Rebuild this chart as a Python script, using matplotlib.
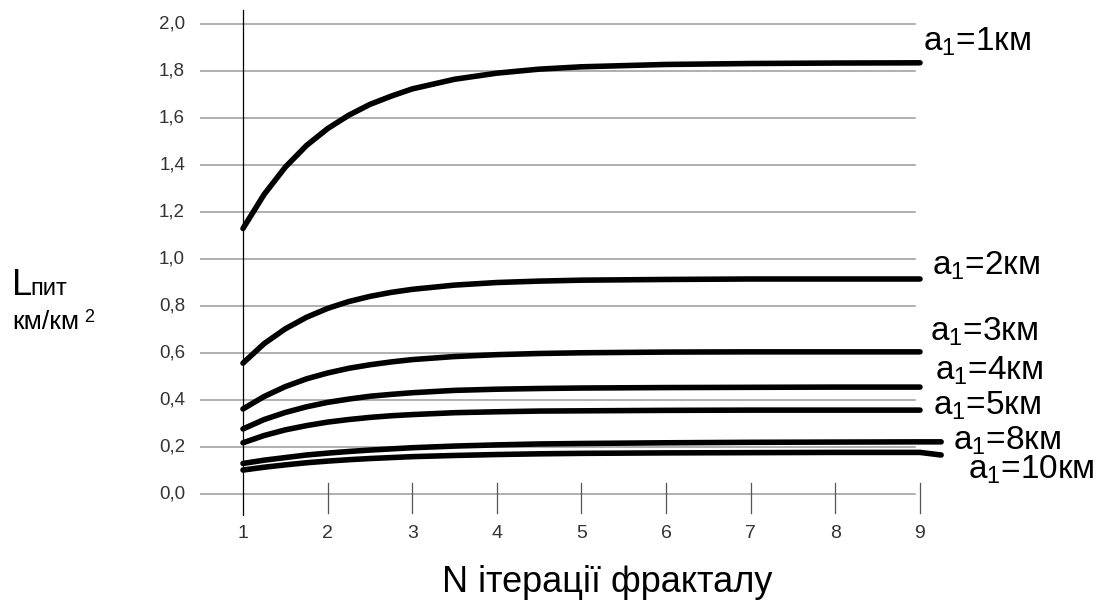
import matplotlib
matplotlib.use("Agg")
import matplotlib.pyplot as plt

plt.rcParams['font.family'] = ['Liberation Sans', 'DejaVu Sans']
plt.rcParams['mathtext.fontset'] = 'custom'
plt.rcParams['mathtext.rm'] = 'Liberation Sans'
plt.rcParams['mathtext.default'] = 'regular'

# iteration numbers where the curves were read
n_iter = [1, 1.25, 1.5, 1.75, 2, 2.25, 2.5, 2.75, 3, 3.5, 4, 4.5, 5, 6, 7, 8, 9]
n_tail = [9.25]

L_a1 = [1.13, 1.275, 1.391, 1.483, 1.555, 1.612, 1.658, 1.693, 1.724, 1.765, 1.791, 1.808, 1.818, 1.828, 1.832, 1.834, 1.835]
L_a2 = [0.557, 0.64, 0.703, 0.752, 0.79, 0.819, 0.841, 0.858, 0.871, 0.889, 0.90, 0.906, 0.91, 0.913, 0.915, 0.915, 0.915]
L_a3 = [0.362, 0.415, 0.457, 0.49, 0.515, 0.535, 0.55, 0.562, 0.572, 0.585, 0.593, 0.598, 0.601, 0.604, 0.605, 0.605, 0.605]
L_a4 = [0.277, 0.317, 0.347, 0.371, 0.39, 0.404, 0.416, 0.424, 0.431, 0.441, 0.446, 0.449, 0.451, 0.453, 0.454, 0.455, 0.455]
L_a5 = [0.218, 0.249, 0.273, 0.291, 0.306, 0.317, 0.326, 0.333, 0.338, 0.346, 0.35, 0.353, 0.354, 0.356, 0.357, 0.357, 0.357]
L_a8 = [0.13, 0.144, 0.155, 0.166, 0.174, 0.181, 0.187, 0.192, 0.197, 0.204, 0.209, 0.213, 0.215, 0.218, 0.22, 0.221, 0.222]
L_a10 = [0.102, 0.114, 0.124, 0.133, 0.14, 0.146, 0.151, 0.155, 0.159, 0.164, 0.168, 0.171, 0.173, 0.175, 0.176, 0.177, 0.177]
tail_a8 = [0.222]
tail_a10 = [0.166]

labels = ['a$_1$=1км', 'a$_1$=2км', 'a$_1$=3км', 'a$_1$=4км', 'a$_1$=5км', 'a$_1$=8км', 'a$_1$=10км']
# label anchor in figure pixels (left, vertical centre)
label_px = [(923, 42), (932, 266), (930, 332), (935, 371), (933, 406), (953, 441), (968, 470)]

y_ticks = [0.0, 0.2, 0.4, 0.6, 0.8, 1.0, 1.2, 1.4, 1.6, 1.8, 2.0]
x_ticks = [1, 2, 3, 4, 5, 6, 7, 8, 9]

W, H = 1113, 602
fig = plt.figure(figsize=(W / 100, H / 100), dpi=100)
ax = fig.add_axes([200 / W, (H - 520) / H, 750 / W, 515 / H])
ax.set_xlim(0.492, 9.3545)
ax.set_ylim(-0.1106, 2.081)
ax.axis('off')

# grid
for yv in y_ticks:
    ax.plot([0.492, 8.94], [yv, yv], color='#9a9a9a', lw=1.1, zorder=1)
    ax.text(0.315, yv, f"{yv:.1f}".replace('.', ','), ha='right', va='center',
            fontsize=13.5, color='#333333')
ax.plot([1, 1], [-0.09, 2.06], color='black', lw=0.9, zorder=2)
for xv in x_ticks:
    if xv > 1:
        ax.plot([xv, xv], [-0.081, 0.047], color='#555555', lw=0.9, zorder=2)
    ax.text(xv, -0.166, str(xv), ha='center', va='center', fontsize=14, color='#333333',
            clip_on=False)

series = [L_a1, L_a2, L_a3, L_a4, L_a5, L_a8, L_a10]
for i, vals in enumerate(series):
    xs = list(n_iter)
    ys = list(vals)
    if i == 5:
        xs += n_tail
        ys += tail_a8
    if i == 6:
        xs += n_tail
        ys += tail_a10
    ax.plot(xs, ys, color='black', lw=4, solid_capstyle='round', solid_joinstyle='round',
            zorder=3, clip_on=False)

for lab, (px, py) in zip(labels, label_px):
    fig.text(px / W, 1 - py / H, lab, ha='left', va='center', fontsize=24)

# y label
fig.text(12 / W, 1 - 295 / H, 'L', ha='left', va='baseline', fontsize=26)
fig.text(30 / W, 1 - 295 / H, 'пит', ha='left', va='baseline', fontsize=17)
fig.text(12 / W, 1 - 329 / H, 'км/км', ha='left', va='baseline', fontsize=19)
fig.text(84 / W, 1 - 322 / H, '2', ha='left', va='baseline', fontsize=13)

# x label
fig.text(607 / W, 1 - 592 / H, 'N ітерації фракталу', ha='center', va='baseline', fontsize=26)

fig.savefig('out.png', dpi=100)
